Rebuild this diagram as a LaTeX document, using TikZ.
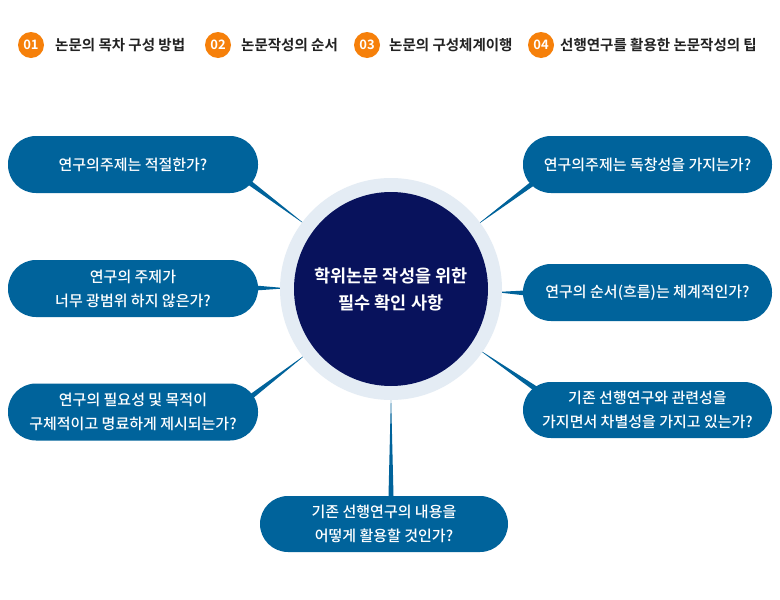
\documentclass[tikz,border=0pt]{standalone}
\usepackage{fontspec}
\setmainfont{Noto Sans CJK KR}[BoldFont={* Bold}]
\newfontfamily\medfont{Noto Sans CJK KR Medium}
\usetikzlibrary{calc}
\definecolor{pillblue}{RGB}{0,99,155}
\definecolor{navy}{RGB}{8,18,92}
\definecolor{ringc}{RGB}{228,236,244}
\definecolor{orangec}{RGB}{246,128,10}
\definecolor{toptext}{RGB}{34,34,34}
\begin{document}
\begin{tikzpicture}[x=1pt,y=-1pt,
  pill/.style={fill=pillblue, rounded corners=28pt, minimum width=250pt, minimum height=57pt,
    inner sep=0pt, text=white, align=center, font=\fontsize{15}{24}\selectfont\medfont},
  badge/.style={circle, fill=orangec, minimum size=26pt, inner sep=0pt, text=white,
    font=\fontsize{13}{13}\selectfont\bfseries},
  toplabel/.style={anchor=west, inner sep=0pt, text=toptext, font=\fontsize{14.5}{14}\selectfont\bfseries},
  wedge/.style={fill=pillblue}
]
\useasboundingbox (0,0) rectangle (780,600);
\fill[white] (0,0) rectangle (780,600);

% top bar
\node[badge] (b1) at (31,45) {01};
\node[toplabel] (t1) at (55,45) {논문의 목차 구성 방법};
\node[badge] (b2) at (218,45) {02};
\node[toplabel] (t2) at (241,45) {논문작성의 순서};
\node[badge] (b3) at (367,45) {03};
\node[toplabel] (t3) at (389,45) {논문의 구성체계이행};
\node[badge] (b4) at (541,45) {04};
\node[toplabel] (t4) at (560,45) {선행연구를 활용한 논문작성의 팁};

% centre coordinate
\coordinate (c) at (391,289);

% connector start points (just inside pills)
\coordinate (s1) at (246,180);
\coordinate (s2) at (254,288);
\coordinate (s3) at (248,399);
\coordinate (s4) at (391,500);
\coordinate (s5) at (536,181);
\coordinate (s6) at (527,293);
\coordinate (s7) at (536,389);

\foreach \s in {s1,s2,s3,s4,s5,s6,s7}{
  \fill[wedge] ($(\s)!2.6pt!90:(c)$) -- ($(\s)!2.6pt!-90:(c)$) -- ($(c)!104pt!(\s)$) -- cycle;
}

% centre circle
\node[circle, fill=ringc, minimum size=222pt, inner sep=0pt] (ring) at (c) {};
\node[circle, fill=navy, minimum size=194pt, inner sep=0pt, text=white, align=center,
  font=\fontsize{17.5}{27}\selectfont\bfseries] (core) at (c) {학위논문 작성을 위한\\필수 확인 사항};

% pills
\node[pill] (l1) at (133,164.5) {연구의주제는 적절한가?};
\node[pill] (l2) at (133,288.5) {연구의 주제가\\너무 광범위 하지 않은가?};
\node[pill] (l3) at (133,412) {연구의 필요성 및 목적이\\구체적이고 명료하게 제시되는가?};
\node[pill, minimum width=248pt, minimum height=56pt] (bt) at (384,524) {기존 선행연구의 내용을\\어떻게 활용할 것인가?};
\node[pill, minimum width=249pt] (r1) at (647.5,164.5) {연구의주제는 독창성을 가지는가?};
\node[pill, minimum width=249pt] (r2) at (647.5,292.5) {연구의 순서(흐름)는 체계적인가?};
\node[pill, minimum width=249pt, minimum height=56pt] (r3) at (647.5,410) {기존 선행연구와 관련성을\\가지면서 차별성을 가지고 있는가?};
\end{tikzpicture}
\end{document}
